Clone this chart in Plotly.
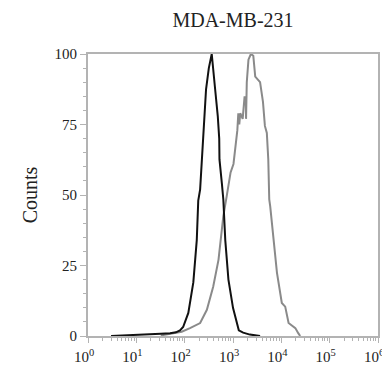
import plotly.graph_objects as go

# Isotype control (black) histogram: fluorescence intensity vs counts
control_x = [3, 10, 20, 32, 50, 66, 80, 93, 119, 151, 178, 191, 209, 226, 251, 277, 316, 363,
             427, 484, 519, 525, 589, 631, 692, 804, 1000, 1202, 1318, 1622, 2239, 3631]
control_y = [0, 0.3, 0.5, 0.8, 1, 1.3, 2, 3.2, 8.2, 19, 34, 48, 52, 62.6, 78, 87.5, 95, 100,
             87.5, 78, 70, 62.6, 54, 48.4, 34, 20, 10, 4.6, 2, 1.2, 0.5, 0]

# Antibody stained (gray) histogram
stain_x = [32, 69, 87, 129, 209, 288, 389, 501, 631, 741, 794, 891, 1023, 1096, 1230, 1288,
           1349, 1413, 1585, 1738, 1841, 1862, 1928, 2089, 2344, 2630, 2884, 3631, 4169,
           4571, 5012, 5370, 5623, 5888, 6918, 8128, 10233, 12023, 14125, 19498, 22387, 24547]
stain_y = [0.2, 1, 1.5, 2.8, 4.6, 9.3, 17.5, 27, 42.5, 49.6, 53, 58, 61, 66, 73, 79,
           75, 79, 77, 85, 84, 77, 90, 98, 100, 99.4, 92, 90, 83,
           74.5, 72, 62.6, 48.4, 46, 34, 22.4, 11.7, 10.4, 4.6, 2.8, 1, 0]

x_tickvals = [1, 10, 100, 1000, 10000, 100000, 1000000]
x_ticktext = ["10<sup>0</sup>", "10<sup>1</sup>", "10<sup>2</sup>", "10<sup>3</sup>",
              "10<sup>4</sup>", "10<sup>5</sup>", "10<sup>6</sup>"]
y_tickvals = [0, 25, 50, 75, 100]

axis_color = "#b3b3b3"
font_family = "Liberation Serif, DejaVu Serif, serif"

# page body has an 8px default margin, so the figure is sized to fit the 390x374 window
W, H = 382, 366

fig = go.Figure()
fig.add_trace(go.Scatter(x=stain_x, y=stain_y, mode="lines",
                         line=dict(color="#8a8a8a", width=2), showlegend=False))
fig.add_trace(go.Scatter(x=control_x, y=control_y, mode="lines",
                         line=dict(color="#111111", width=2), showlegend=False))

fig.update_layout(
    width=W, height=H,
    margin=dict(l=80, r=12, t=46, b=38, autoexpand=False),
    paper_bgcolor="white", plot_bgcolor="white",
    font=dict(family=font_family, color="#222222", size=15),
    title=dict(text="MDA-MB-231", x=0.5, xref="paper", y=1 - 12 / H, yref="container",
               xanchor="center", yanchor="middle", font=dict(size=20, family=font_family)),
    xaxis=dict(type="log", range=[0, 6], tickvals=x_tickvals, ticktext=x_ticktext,
               automargin=False, ticklabelshift=-4, ticklabelstandoff=1,
               showgrid=False, zeroline=False, showline=True, linecolor=axis_color,
               linewidth=2, mirror=True, ticks="outside", ticklen=5, tickcolor=axis_color,
               tickwidth=1, tickfont=dict(size=15),
               minor=dict(ticks="outside", ticklen=3, tickcolor=axis_color, dtick="D1")),
    yaxis=dict(range=[0, 100], tickvals=y_tickvals, showgrid=False, zeroline=False,
               automargin=False,
               showline=True, linecolor=axis_color, linewidth=2, mirror=True,
               ticks="outside", ticklen=6, tickcolor=axis_color, tickwidth=1,
               tickfont=dict(size=15),
               minor=dict(ticks="outside", ticklen=3, tickcolor=axis_color, dtick=5),
               title=dict(text="Counts", font=dict(size=20), standoff=12)),
)

fig.write_html("out.html")
